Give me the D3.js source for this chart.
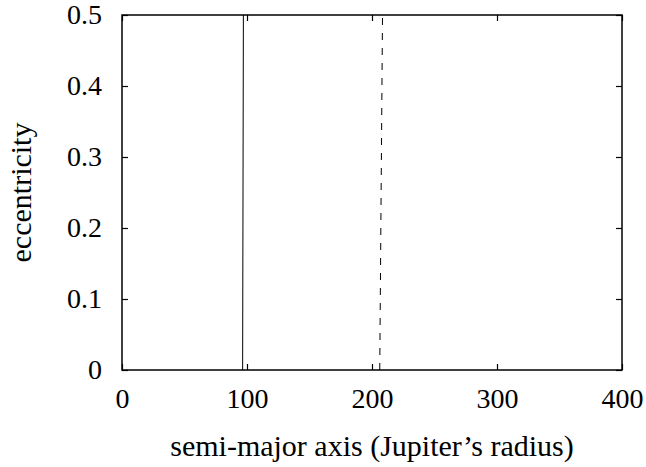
<!DOCTYPE html>
<html>
<head>
<meta charset="utf-8">
<script src="https://cdn.jsdelivr.net/npm/d3@7"></script>
<style>
  body { margin: 0; background: #fff; }
</style>
</head>
<body>
<svg id="chart"></svg>
<script>
// data
var xTicks = [0, 100, 200, 300, 400];
var yTicks = [0, 0.1, 0.2, 0.3, 0.4, 0.5];
var solidLine = [[96.5, 0], [97.1, 0.5]];
var dashedLine = [[206.2, 0], [208.4, 0.5]];

var serif = "'Liberation Serif', 'Times New Roman', serif";
var width = 646, height = 467;
var margin = {top: 15, right: 24, bottom: 97, left: 122};
var w = width - margin.left - margin.right;
var h = height - margin.top - margin.bottom;

var svg = d3.select("#chart").attr("width", width).attr("height", height)
    .style("font-family", serif);
var g = svg.append("g").attr("transform", "translate(" + margin.left + "," + margin.top + ")");

// set the ranges
var sc_x = d3.scaleLinear().domain([0, 400]).range([0, w]);
var sc_y = d3.scaleLinear().domain([0, 0.5]).range([h, 0]);

var line = d3.line()
    .x(function(d) { return sc_x(d[0]); })
    .y(function(d) { return sc_y(d[1]); });

// data lines
g.append("path").datum(solidLine)
    .attr("fill", "none").attr("stroke", "#000").attr("stroke-width", 1)
    .attr("d", line);
g.append("path").datum(dashedLine)
    .attr("fill", "none").attr("stroke", "#000").attr("stroke-width", 1)
    .attr("stroke-dasharray", "7,8")
    .attr("d", line);

// axes: inward ticks on all four sides
var tickLen = 6;
function styleAxis(sel) {
    sel.attr("font-family", serif).attr("font-size", 28);
    sel.select(".domain").remove();
    sel.selectAll(".tick line").attr("stroke", "#000").attr("stroke-width", 1.2);
    sel.selectAll("text").attr("fill", "#000");
}

g.append("g").attr("transform", "translate(0," + h + ")")
    .call(d3.axisBottom(sc_x).tickValues(xTicks).tickSize(-tickLen).tickPadding(18).tickFormat(d3.format("d")))
    .call(styleAxis);
g.append("g")
    .call(d3.axisTop(sc_x).tickValues(xTicks).tickSize(-tickLen).tickFormat(""))
    .call(styleAxis);
g.append("g")
    .call(d3.axisLeft(sc_y).tickValues(yTicks).tickSize(-tickLen).tickPadding(20)
        .tickFormat(function(d) { return d === 0 ? "0" : d3.format(".1f")(d); }))
    .call(styleAxis);
g.append("g").attr("transform", "translate(" + w + ",0)")
    .call(d3.axisRight(sc_y).tickValues(yTicks).tickSize(-tickLen).tickFormat(""))
    .call(styleAxis);

// frame
g.append("rect")
    .attr("x", 0).attr("y", 0).attr("width", w).attr("height", h)
    .attr("fill", "none").attr("stroke", "#000").attr("stroke-width", 1.5);

// axis titles
svg.append("text")
    .attr("x", margin.left + w / 2).attr("y", 456)
    .attr("text-anchor", "middle").attr("font-size", 30)
    .text("semi-major axis (Jupiter\u2019s radius)");
svg.append("text")
    .attr("transform", "translate(31," + (margin.top + h / 2) + ") rotate(-90)")
    .attr("text-anchor", "middle").attr("font-size", 30)
    .text("eccentricity");
</script>
</body>
</html>
